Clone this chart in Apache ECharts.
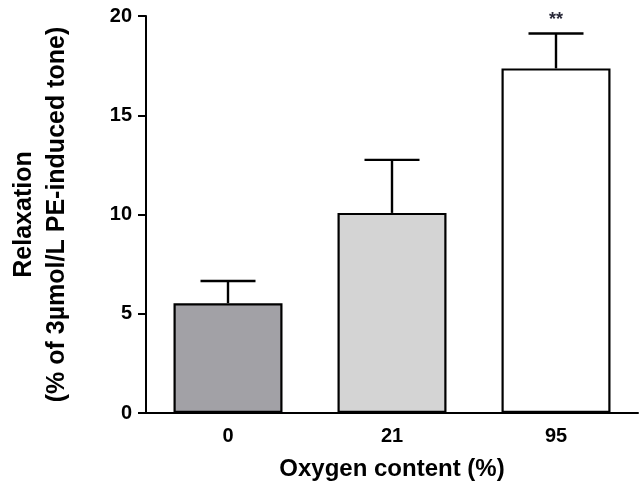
<!DOCTYPE html>
<html><head><meta charset="utf-8">
<script src="https://cdn.jsdelivr.net/npm/echarts@6/dist/echarts.min.js"></script>
<style>html,body{margin:0;padding:0;background:#fff}#c{width:640px;height:486px}</style>
</head><body><div id="c"></div>
<script>
var categories = ['0', '21', '95'];
var means = [5.53, 10.08, 17.36];
var errorTops = [6.65, 12.75, 19.12];
var significance = ['', '', '**'];
var barColors = ['#a2a1a6', '#d4d4d4', '#ffffff'];
var yTicks = [0, 5, 10, 15, 20];

var FONT = 'Liberation Sans, Arial, sans-serif';
var chart = echarts.init(document.getElementById('c'));
chart.setOption({
  animation: false,
  grid: {left: 145, right: 2, top: 16, bottom: 72, containLabel: false},
  xAxis: {
    type: 'category', data: categories,
    name: 'Oxygen content (%)', nameLocation: 'middle', nameGap: 44,
    nameTextStyle: {fontFamily: FONT, fontWeight: 'bold', fontSize: 24, color: '#000'},
    axisLine: {lineStyle: {color: '#000', width: 2}},
    axisTick: {alignWithLabel: true, length: 8, lineStyle: {color: '#000', width: 2}},
    axisLabel: {fontFamily: FONT, fontWeight: 'bold', fontSize: 20, color: '#000', margin: 13}
  },
  yAxis: {
    type: 'value', min: yTicks[0], max: yTicks[yTicks.length - 1], interval: 5,
    name: 'Relaxation\n(% of 3\u00b5mol/L PE-induced tone)', nameLocation: 'middle', nameRotate: 90, nameGap: 72,
    nameTextStyle: {fontFamily: FONT, fontWeight: 'bold', fontSize: 25, color: '#000', lineHeight: 33, align: 'center'},
    axisLine: {show: true, lineStyle: {color: '#000', width: 2}},
    axisTick: {show: true, length: 8, lineStyle: {color: '#000', width: 2}},
    splitLine: {show: false},
    axisLabel: {fontFamily: FONT, fontWeight: 'bold', fontSize: 20, color: '#000', margin: 14}
  },
  series: [{
    type: 'bar', barWidth: 109,
    data: means.map(function (v, i) {
      return {value: v, itemStyle: {color: barColors[i]}};
    }),
    itemStyle: {borderColor: '#000', borderWidth: 2.2},
    z: 2
  }, {
    type: 'custom',
    data: means.map(function (v, i) { return [i, v, errorTops[i]]; }),
    renderItem: function (params, api) {
      var i = api.value(0);
      var p0 = api.coord([i, api.value(1)]);
      var p1 = api.coord([i, api.value(2)]);
      var half = 27.5;
      var style = {stroke: '#000', lineWidth: 2.4, fill: null};
      var children = [
        {type: 'line', shape: {x1: p0[0], y1: p0[1], x2: p1[0], y2: p1[1]}, style: style},
        {type: 'line', shape: {x1: p1[0] - half, y1: p1[1], x2: p1[0] + half, y2: p1[1]}, style: style}
      ];
      var s = significance[params.dataIndex];
      if (s) {
        children.push({type: 'text', style: {text: s, x: p1[0], y: p1[1] - 13, align: 'center', verticalAlign: 'middle',
          fontFamily: FONT, fontWeight: 'bold', fontSize: 18, fill: '#2a2a3a'}});
      }
      return {type: 'group', children: children};
    },
    z: 3
  }]
});
</script></body></html>
